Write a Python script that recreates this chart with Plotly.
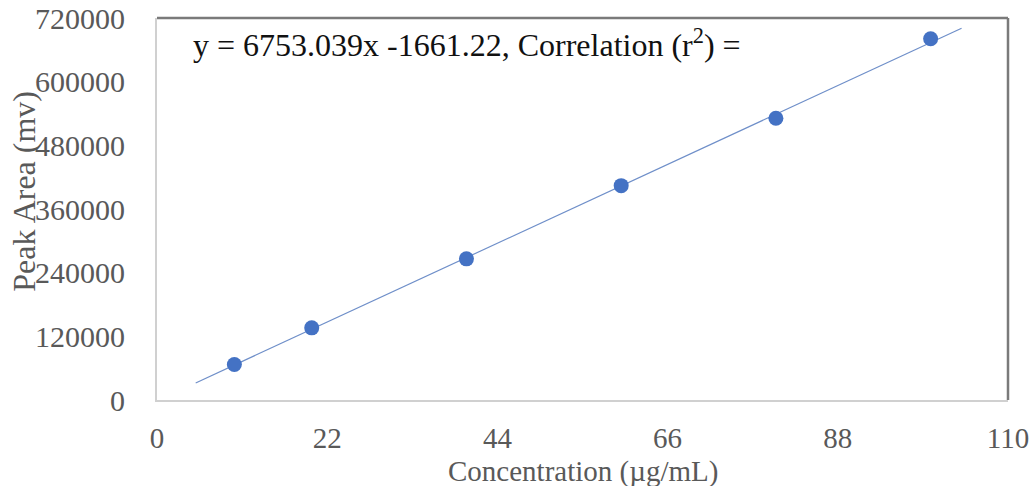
import plotly.graph_objects as go

# Calibration data
concentration = [10, 20, 40, 60, 80, 100]
peak_area = [67000, 136000, 266000, 404000, 531000, 681000]

# Linear fit reported for the calibration
slope = 6753.039
intercept = -1661.22
fit_x = [5, 104]
fit_y = [slope * v + intercept for v in fit_x]

x_ticks = [0, 22, 44, 66, 88, 110]
y_ticks = [0, 120000, 240000, 360000, 480000, 600000, 720000]

font_family = "Liberation Serif"
tick_color = "#595959"

fig = go.Figure()
fig.add_trace(go.Scatter(
    x=fit_x, y=fit_y, mode="lines",
    line=dict(color="#6f8fc9", width=1.2),
    showlegend=False, hoverinfo="skip",
))
fig.add_trace(go.Scatter(
    x=concentration, y=peak_area, mode="markers",
    marker=dict(color="#4472C4", size=15),
    showlegend=False,
))

fig.update_xaxes(
    range=[0, 110], tickvals=x_ticks, ticktext=[str(v) for v in x_ticks],
    showgrid=False, zeroline=False, automargin=False,
    showline=True, linecolor="#d0d0d0", linewidth=2,
    tickfont=dict(family=font_family, size=29, color=tick_color),
    ticks="", ticklabelstandoff=11,
)
fig.update_yaxes(
    range=[0, 720000], tickvals=y_ticks, ticktext=[str(v) for v in y_ticks],
    showgrid=False, zeroline=False, automargin=False,
    showline=True, linecolor="#d0d0d0", linewidth=2,
    tickfont=dict(family=font_family, size=30, color=tick_color),
    ticks="", ticklabelstandoff=24,
)

# Darker top and right frame edges
fig.add_shape(type="line", xref="paper", yref="paper", x0=0, x1=1, y0=1, y1=1,
              line=dict(color="#7a7a7a", width=2.5))
fig.add_shape(type="line", xref="paper", yref="paper", x0=1, x1=1, y0=0, y1=1,
              line=dict(color="#7a7a7a", width=2.5))

fig.add_annotation(
    text="y = 6753.039x -1661.22, Correlation (r<sup>2</sup>) =",
    xref="paper", yref="paper", x=0.04, y=0.935,
    xanchor="left", yanchor="middle", showarrow=False,
    font=dict(family=font_family, size=32, color="#111111"),
)
fig.add_annotation(
    text="Peak Area (mv)", textangle=-90,
    xref="paper", yref="paper", x=0, y=0.545, xshift=-133,
    xanchor="center", yanchor="middle", showarrow=False,
    font=dict(family=font_family, size=32, color=tick_color),
)
fig.add_annotation(
    text="Concentration (µg/mL)",
    xref="paper", yref="paper", x=0.5, y=0, yshift=-71,
    xanchor="center", yanchor="middle", showarrow=False,
    font=dict(family=font_family, size=29, color=tick_color),
)

fig.update_layout(
    width=1036, height=486,
    margin=dict(l=157, r=28, t=18, b=86),
    paper_bgcolor="white", plot_bgcolor="white",
)

fig.write_html("out.html")
